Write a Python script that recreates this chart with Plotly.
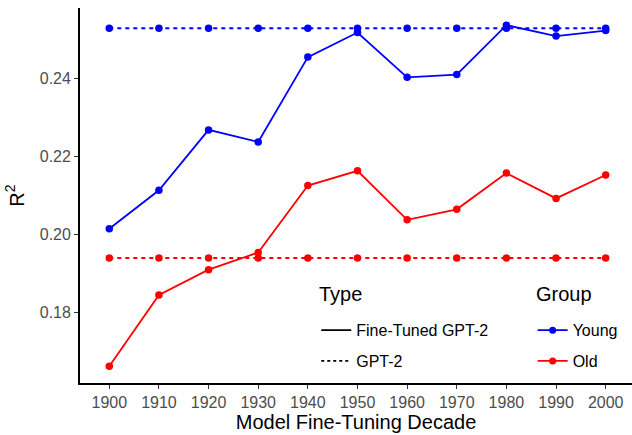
import plotly.graph_objects as go

decades = [1900, 1910, 1920, 1930, 1940, 1950, 1960, 1970, 1980, 1990, 2000]
young_ft = [0.2015, 0.2114, 0.2269, 0.2238, 0.2456, 0.2519, 0.2404, 0.2411, 0.2538, 0.2510, 0.2524]
old_ft = [0.1662, 0.1845, 0.1910, 0.1954, 0.2126, 0.2164, 0.2038, 0.2065, 0.2158, 0.2093, 0.2153]
young_base = [0.2530] * 11
old_base = [0.1940] * 11

BLUE = "#0000FF"
RED = "#FF0000"
FONT = "Liberation Sans, Arial, Helvetica, sans-serif"
DASH = "4px,4px"

fig = go.Figure()

series = [
    (old_base, RED, DASH),
    (young_base, BLUE, DASH),
    (old_ft, RED, "solid"),
    (young_ft, BLUE, "solid"),
]
for ys, col, dash in series:
    fig.add_trace(go.Scatter(
        x=decades, y=ys, mode="lines+markers",
        line=dict(color=col, width=1.8, dash=dash),
        marker=dict(color=col, size=7.5),
        showlegend=False, cliponaxis=False,
    ))

# Legend: Type
fig.add_trace(go.Scatter(x=[None], y=[None], mode="lines", name="Fine-Tuned GPT-2",
                         line=dict(color="black", width=1.8), legend="legend",
                         legendgroup="t1"))
fig.add_trace(go.Scatter(x=[None], y=[None], mode="lines", name="GPT-2",
                         line=dict(color="black", width=1.8, dash="3px,3px"),
                         legend="legend", legendgroup="t2"))
# Legend: Group
fig.add_trace(go.Scatter(x=[None], y=[None], mode="lines+markers", name="Young",
                         line=dict(color=BLUE, width=1.8), marker=dict(color=BLUE, size=7),
                         legend="legend2", legendgroup="g1"))
fig.add_trace(go.Scatter(x=[None], y=[None], mode="lines+markers", name="Old",
                         line=dict(color=RED, width=1.8), marker=dict(color=RED, size=7),
                         legend="legend2", legendgroup="g2"))

legend_common = dict(
    font=dict(family=FONT, size=16, color="black"),
    bgcolor="rgba(0,0,0,0)",
    xanchor="left", yanchor="top",
    tracegroupgap=7, itemwidth=30,
)

title_font = dict(family=FONT, size=20, color="black")

fig.update_layout(
    width=632, height=435,
    margin=dict(l=80, r=0, t=8, b=52),
    paper_bgcolor="white", plot_bgcolor="white",
    font=dict(family=FONT, size=16, color="black"),
    legend=dict(x=0.428, y=0.186, **legend_common),
    legend2=dict(x=0.82, y=0.186, **legend_common),
    annotations=[
        dict(text="Type", xref="paper", yref="paper", x=0.429, y=0.238,
             xanchor="left", yanchor="middle", showarrow=False, font=title_font),
        dict(text="Group", xref="paper", yref="paper", x=0.822, y=0.238,
             xanchor="left", yanchor="middle", showarrow=False, font=title_font),
    ],
    xaxis=dict(
        range=[1894.1, 2005.3], tickmode="array", tickvals=decades,
        ticktext=[str(d) for d in decades],
        showgrid=False, zeroline=False, showline=True, linecolor="black", linewidth=1.8,
        ticks="outside", ticklen=4, tickcolor="#333333", tickwidth=1,
        tickfont=dict(family=FONT, size=16, color="#4D4D4D"),
        title=dict(text="Model Fine-Tuning Decade", font=title_font, standoff=5),
    ),
    yaxis=dict(
        range=[0.1619, 0.2582], tickvals=[0.18, 0.20, 0.22, 0.24],
        ticktext=["0.18", "0.20", "0.22", "0.24"],
        showgrid=False, zeroline=False, showline=True, linecolor="black", linewidth=1.8,
        ticks="outside", ticklen=4, tickcolor="#333333", tickwidth=1,
        tickfont=dict(family=FONT, size=16, color="#4D4D4D"),
        title=dict(text="R<sup>2</sup>", font=title_font, standoff=10),
    ),
)

fig.write_html("out.html")
